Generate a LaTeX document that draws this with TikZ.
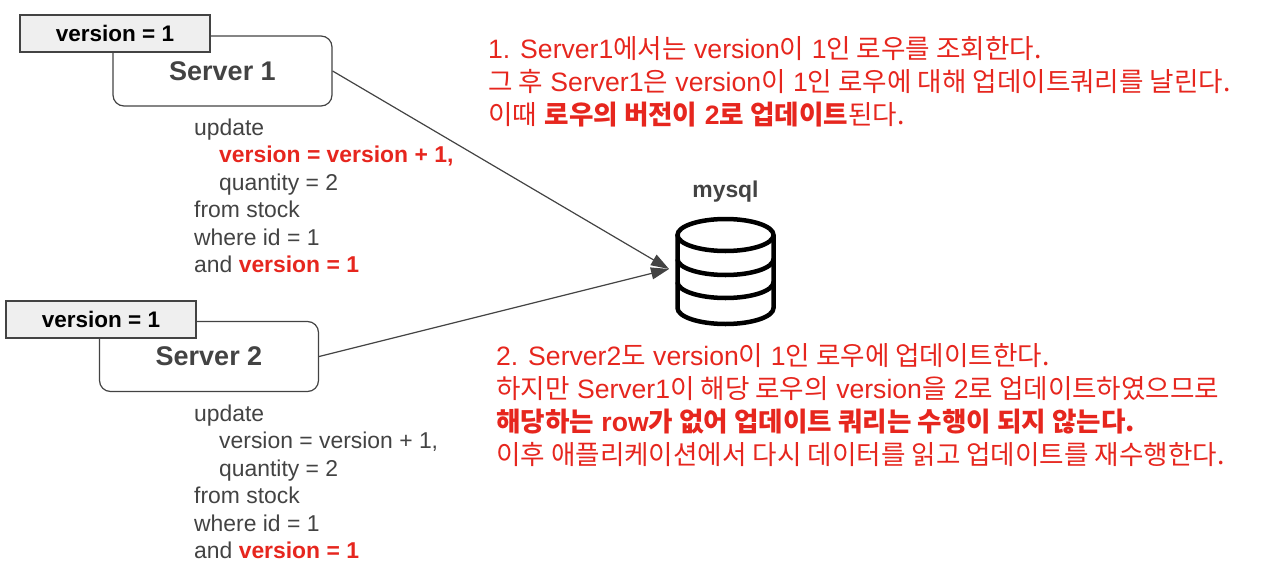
\documentclass[tikz,border=0pt]{standalone}
\usepackage{fontspec}
\usepackage{xcolor}
\usetikzlibrary{arrows.meta,positioning,calc}
\setmainfont{Liberation Sans}
\newfontfamily\krfont{Noto Sans CJK KR}
\newcommand{\kr}[1]{{\krfont #1}}
\definecolor{lockred}{RGB}{230,38,30}
\definecolor{lockgray}{RGB}{67,67,67}
\definecolor{lockfill}{RGB}{239,239,239}
\newcommand{\rd}[1]{\textcolor{lockred}{\bfseries #1}}

\begin{document}
\begin{tikzpicture}[
    x=1pt, y=-1pt,
    server/.style={rectangle, rounded corners=11pt, draw=lockgray, line width=1.2pt, minimum width=219pt, minimum height=70pt, inner sep=0pt, text=lockgray, font=\fontsize{27}{30}\selectfont\bfseries, text depth=0pt},
    verbox/.style={rectangle, draw=lockgray, line width=1.3pt, fill=lockfill, minimum width=190pt, minimum height=37pt, inner sep=0pt, font=\fontsize{22.5}{26}\selectfont\bfseries},
    query/.style={anchor=north west, align=left, inner sep=0pt, text=lockgray, font=\fontsize{22.9}{27.5}\selectfont},
    note/.style={anchor=north west, align=left, inner sep=0pt, text=lockred, font=\fontsize{26.6}{33}\selectfont},
    arrow/.style={-{Triangle[length=18pt,width=12pt]}, line width=1.2pt, draw=lockgray},
    dbline/.style={line width=4.5pt, draw=black}
]
    \useasboundingbox (0,0) rectangle (1280,573);

    % Servers
    \node[server] (server1) at (222.5,71) {Server 1};
    \node[server] (server2) at (209,356.5) {Server 2};

    % Version boxes
    \node[verbox] (ver1) at (115,33.5) {version = 1};
    \node[verbox] (ver2) at (101,319.5) {version = 1};

    % Queries
    \node[query] (query1) at (194,118.5) {update\\
        \hspace*{25pt}\rd{version = version + 1,}\\
        \hspace*{25pt}quantity = 2\\
        from stock\\
        where id = 1\\
        and \rd{version = 1}};
    \node[query] (query2) at (194,404.5) {update\\
        \hspace*{25pt}version = version + 1,\\
        \hspace*{25pt}quantity = 2\\
        from stock\\
        where id = 1\\
        and \rd{version = 1}};

    % Database
    \coordinate (dbin) at (669,269);
    \coordinate (dbtop) at (725.5,235);
    \node[text=lockgray, inner sep=0pt, font=\fontsize{22.9}{26}\selectfont\bfseries] (dblabel) at (725.5,192) {mysql};
    \draw[dbline] (dbtop) ellipse [x radius=48, y radius=16];
    \draw[dbline] ($(dbtop)+(-48,0)$) -- ++(0,73) arc [start angle=180, end angle=360, x radius=48, y radius=-16] -- ++(0,-73);
    \draw[dbline] ($(dbtop)+(-48,24)$) arc [start angle=180, end angle=360, x radius=48, y radius=-16];
    \draw[dbline] ($(dbtop)+(-48,47)$) arc [start angle=180, end angle=360, x radius=48, y radius=-16];

    % Arrows
    \draw[arrow] (server1.east) -- (dbin);
    \draw[arrow] (server2.east) -- (dbin);

    % Notes
    \node[note] (note1) at (488,36) {1. Server1\kr{에서는} version\kr{이} 1\kr{인 로우를 조회한다.}\\
        \kr{그 후} Server1\kr{은} version\kr{이} 1\kr{인 로우에 대해 업데이트쿼리를 날린다.}\\
        \kr{이때} \textbf{\kr{로우의 버전이} 2\kr{로 업데이트}}\kr{된다.}};
    \node[note] (note2) at (496,343) {2. Server2\kr{도} version\kr{이} 1\kr{인 로우에 업데이트한다.}\\
        \kr{하지만} Server1\kr{이 해당 로우의} version\kr{을} 2\kr{로 업데이트하였으므로}\\
        \textbf{\kr{해당하는} row\kr{가 없어 업데이트 쿼리는 수행이 되지 않는다.}}\\
        \kr{이후 애플리케이션에서 다시 데이터를 읽고 업데이트를 재수행한다.}};
\end{tikzpicture}
\end{document}
